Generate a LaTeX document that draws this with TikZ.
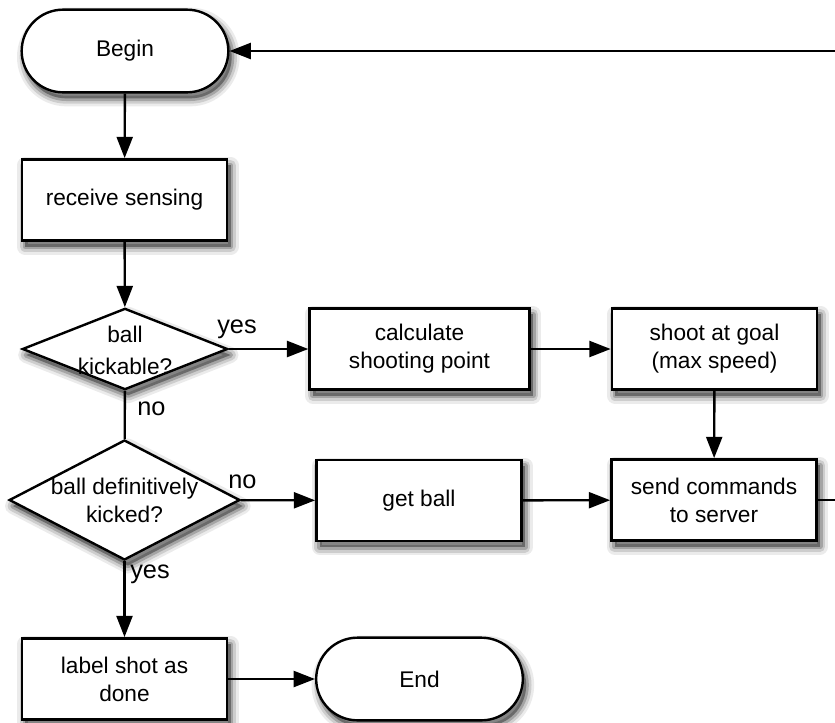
\documentclass[tikz,border=0pt]{standalone}
\usepackage{fontspec}
\setmainfont{Liberation Sans}
\usetikzlibrary{shapes.geometric,shapes.misc,arrows.meta}

\begin{document}
\begin{tikzpicture}[x=0.75pt,y=-0.75pt,
  % soft drop shadow: stacked translucent copies of the outline
  shadowlayer/.style={draw=black,fill=black,line width=#1,line join=round,
      transform canvas={shift={(2.5pt,-4.5pt)}}},
  shadowed/.style={
      preaction={shadowlayer=12pt,opacity=0.08},
      preaction={shadowlayer=8pt,opacity=0.13},
      preaction={shadowlayer=4pt,opacity=0.2}},
  base/.style={draw=black,line width=1.8pt,fill=white,shadowed,
      font=\fontsize{17}{21}\selectfont,align=center,inner sep=0pt},
  stepbox/.style={base,rectangle,minimum width=154pt,minimum height=61pt},
  terminal/.style={base,rounded rectangle,minimum width=155pt,minimum height=62pt},
  decision/.style={base,diamond},
  dtext/.style={font=\fontsize{17}{21}\selectfont,align=center,inner sep=0pt},
  branch/.style={font=\fontsize{19}{22}\selectfont,inner sep=0pt,anchor=base west},
  arr/.style={line width=1.8pt,-{Triangle[length=16pt,width=12pt]}},
  ln/.style={line width=1.8pt}]

\useasboundingbox (0,0) rectangle (835,722);
\clip (0,0) rectangle (835,722);

% process steps
\node[terminal] (begin) at (125,51) {Begin};
\node[stepbox] (recv) at (124.5,200) {receive sensing};
\node[decision,minimum width=154pt,minimum height=61pt] (kick) at (125,349) {};
\node[dtext] (kickt) at (125,350) {ball\\[3pt]kickable?};
\node[decision,minimum width=173pt,minimum height=90pt] (done) at (124.5,500) {};
\node[dtext] (donet) at (124.5,500) {ball definitively\\kicked?};
\node[stepbox,minimum width=165pt] (calc) at (419.5,349) {calculate\\shooting point};
\node[stepbox] (shoot) at (714.5,349) {shoot at goal\\(max speed)};
\node[stepbox] (get) at (419,500.5) {get ball};
\node[stepbox] (send) at (714,500) {send commands\\to server};
\node[stepbox] (lbl) at (124.5,679) {label shot as\\done};
\node[terminal] (end) at (419.5,679) {End};

% branch labels
\node[branch] (y1) at (217,333) {yes};
\node[branch] (n1) at (137,415) {no};
\node[branch] (n2) at (228,488) {no};
\node[branch] (y2) at (130,578) {yes};

% connectors
\draw[arr] (begin) -- (recv);
\draw[arr] (recv) -- (kick);
\draw[ln] (kick) -- (done);
\draw[arr] (kick) -- (calc);
\draw[arr] (calc) -- (shoot);
\draw[arr] (shoot) -- (send);
\draw[arr] (done) -- (get);
\draw[arr] (get) -- (send);
\draw[arr] (done) -- (lbl);
\draw[arr] (lbl) -- (end);
\coordinate (loop) at (860,500);
\draw[arr] (send.east) -- (loop) |- (begin.east);

\end{tikzpicture}
\end{document}
